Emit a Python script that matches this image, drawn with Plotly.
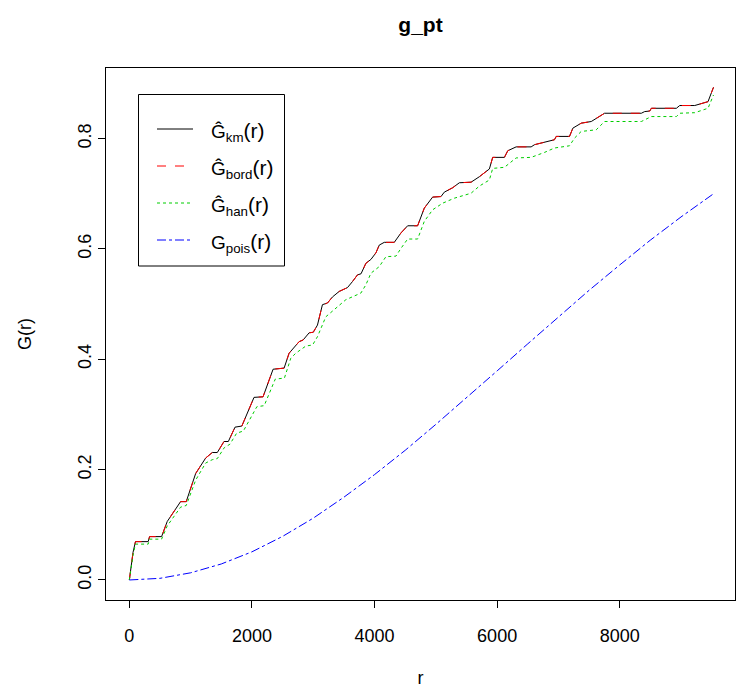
import plotly.graph_objects as go

# ---- data ----
r_km = [0, 60, 100, 307, 330, 526, 618, 836, 928, 1082, 1245, 1353, 1435, 1544, 1615,
        1724, 1835, 2034, 2181, 2345, 2525, 2606, 2770, 2835, 2933, 3000, 3069, 3150,
        3232, 3314, 3423, 3559, 3641, 3722, 3780, 3859, 3941, 4023, 4077, 4159, 4322,
        4431, 4540, 4703, 4812, 4948, 5084, 5139, 5275, 5384, 5575, 5711, 5874, 5928,
        6119, 6174, 6310, 6555, 6610, 6773, 6936, 6964, 7181, 7236, 7372, 7536, 7617,
        7672, 7753, 8353, 8407, 8490, 8516, 8925, 8979, 9224, 9333, 9441, 9530]
g_km = [0.0, 0.050, 0.0695, 0.0695, 0.0786, 0.0786, 0.106, 0.142, 0.142, 0.193, 0.221,
        0.231, 0.231, 0.251, 0.251, 0.277, 0.279, 0.331, 0.332, 0.382, 0.384, 0.411,
        0.432, 0.435, 0.448, 0.449, 0.462, 0.499, 0.502, 0.513, 0.523, 0.530, 0.541,
        0.553, 0.555, 0.574, 0.581, 0.593, 0.607, 0.612, 0.612, 0.629, 0.642, 0.642,
        0.674, 0.694, 0.695, 0.703, 0.711, 0.720, 0.721, 0.731, 0.745, 0.766, 0.766,
        0.778, 0.785, 0.785, 0.789, 0.794, 0.798, 0.804, 0.804, 0.819, 0.828, 0.831,
        0.837, 0.840, 0.846, 0.846, 0.849, 0.850, 0.855, 0.855, 0.860, 0.860, 0.864,
        0.867, 0.893]

r_bord = list(r_km)
g_bord = list(g_km)

r_han = [0, 60, 100, 307, 330, 526, 618, 836, 928, 1082, 1245, 1353, 1435, 1550, 1640,
         1750, 1860, 2080, 2200, 2380, 2530, 2634, 2715, 2879, 2990, 3069, 3205, 3314,
         3532, 3777, 3859, 3941, 4077, 4186, 4349, 4431, 4540, 4703, 4812, 4948, 5112,
         5302, 5575, 5711, 5874, 5928, 6119, 6310, 6555, 6773, 6936, 7181, 7263, 7372,
         7617, 7753, 8353, 8516, 8925, 8979, 9224, 9360, 9441, 9530]
g_han = [0.0, 0.045, 0.065, 0.065, 0.074, 0.074, 0.098, 0.132, 0.135, 0.181, 0.212,
         0.218, 0.220, 0.240, 0.246, 0.266, 0.270, 0.314, 0.316, 0.364, 0.366, 0.402,
         0.411, 0.424, 0.426, 0.441, 0.477, 0.487, 0.508, 0.520, 0.535, 0.556, 0.568,
         0.586, 0.587, 0.601, 0.618, 0.618, 0.650, 0.671, 0.683, 0.692, 0.701, 0.714,
         0.725, 0.746, 0.748, 0.765, 0.766, 0.775, 0.783, 0.787, 0.801, 0.813, 0.816,
         0.831, 0.831, 0.840, 0.840, 0.846, 0.847, 0.852, 0.855, 0.879]

r_pois = [0, 500, 1000, 1500, 2000, 2500, 3000, 3500, 4000, 4500, 5000, 5500, 6000,
          6500, 7000, 7500, 8000, 8500, 9000, 9530]
g_pois = [0.0, 0.003, 0.013, 0.029, 0.051, 0.079, 0.112, 0.150, 0.191, 0.235, 0.282,
          0.330, 0.379, 0.428, 0.477, 0.525, 0.571, 0.616, 0.658, 0.700]

x_ticks = [0, 2000, 4000, 6000, 8000]
y_ticks = [0.0, 0.2, 0.4, 0.6, 0.8]
y_tick_text = ["0.0", "0.2", "0.4", "0.6", "0.8"]

legend_labels = ["Ĝ<sub>km</sub><span style='font-size:21px'>(r)</span>",
                 "Ĝ<sub>bord</sub><span style='font-size:21px'>(r)</span>",
                 "Ĝ<sub>han</sub><span style='font-size:21px'>(r)</span>",
                 "G<sub>pois</sub><span style='font-size:21px'>(r)</span>"]
trace_names = ["km", "bord", "han", "pois"]
colors = ["#000000", "#FF0000", "#00CD00", "#0000FF"]
dashes = ["solid", "dash", "dot", "dashdot"]

FONT = "Liberation Sans, Arial, sans-serif"

fig = go.Figure()
series = [(r_km, g_km), (r_bord, g_bord), (r_han, g_han), (r_pois, g_pois)]
for (rx, gy), name, col, d in zip(series, trace_names, colors, dashes):
    fig.add_trace(go.Scatter(x=rx, y=gy, mode="lines", name=name,
                             line=dict(color=col, width=1, dash=d),
                             showlegend=False))

# ---- figure geometry ----
W, H = 736, 688
L, R, T, B = 106, 1, 68, 88
pw, ph = W - L - R, H - T - B

def px(xp):
    return (xp - L) / pw

def py(yp):
    return (H - B - yp) / ph

shapes = []
annotations = []
# legend box
shapes.append(dict(type="rect", xref="paper", yref="paper",
                   x0=px(138.5), x1=px(284.5), y0=py(266), y1=py(94.5),
                   line=dict(color="black", width=1), fillcolor="white", layer="above"))
rows = [129, 166, 203, 240]
for yrow, name, col, d in zip(rows, legend_labels, colors, dashes):
    shapes.append(dict(type="line", xref="paper", yref="paper",
                       x0=px(157), x1=px(193), y0=py(yrow), y1=py(yrow),
                       line=dict(color=col, width=1, dash=d), layer="above"))
    annotations.append(dict(xref="paper", yref="paper", x=px(209), y=py(yrow + 3),
                            xanchor="left", yanchor="middle", showarrow=False,
                            text=name, font=dict(family=FONT, size=19, color="black")))

fig.update_layout(
    width=W, height=H,
    margin=dict(l=L, r=R, t=T, b=B),
    paper_bgcolor="white", plot_bgcolor="white",
    title=dict(text="<b>g_pt</b>", x=(L + pw / 2) / W, xanchor="center",
               y=1 - 25 / H, yanchor="middle",
               font=dict(family=FONT, size=21, color="black")),
    font=dict(family=FONT, size=18, color="black"),
    shapes=shapes, annotations=annotations,
)
fig.update_xaxes(range=[-381, 9881], tickvals=x_ticks, ticks="outside", ticklen=7,
                 tickcolor="black", showline=True, linecolor="black", linewidth=1,
                 mirror=True, showgrid=False, zeroline=False,
                 ticklabelstandoff=12,
                 title=dict(text="r", font=dict(family=FONT, size=18), standoff=30))
fig.update_yaxes(range=[-0.0363, 0.928], tickvals=y_ticks, ticktext=y_tick_text,
                 ticks="outside", ticklen=7, tickangle=-90,
                 tickcolor="black", showline=True, linecolor="black", linewidth=1,
                 mirror=True, showgrid=False, zeroline=False,
                 title=dict(text="G(r)", font=dict(family=FONT, size=18), standoff=38))

fig.write_html("out.html")
